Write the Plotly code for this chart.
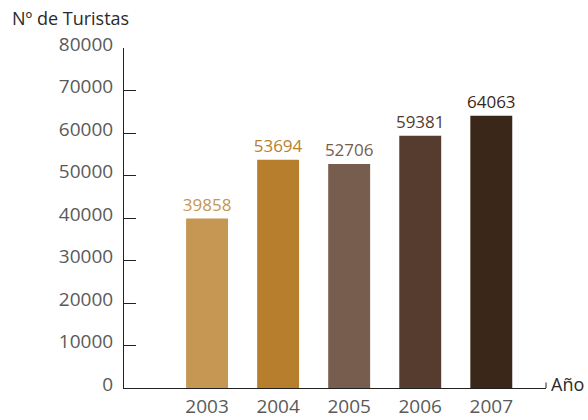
import plotly.graph_objects as go

years = ["2003", "2004", "2005", "2006", "2007"]
turistas = [39858, 53694, 52706, 59381, 64063]
colors = ["#C69653", "#B77F2D", "#765D4D", "#553C2E", "#3B261A"]
y_ticks = [0, 10000, 20000, 30000, 40000, 50000, 60000, 70000, 80000]

xs = list(range(len(years)))

fig = go.Figure()
fig.add_trace(go.Bar(
    x=xs, y=turistas, width=0.59,
    marker=dict(color=colors, line=dict(width=0)),
    text=[str(v) for v in turistas], textposition="outside",
    constraintext="none",
    textfont=dict(family="Open Sans", size=17, color=colors),
    cliponaxis=False, hoverinfo="skip",
))

fig.update_layout(
    width=588, height=420,
    margin=dict(l=124, r=42, t=48, b=32, autoexpand=False),
    paper_bgcolor="white", plot_bgcolor="white",
    showlegend=False,
    font=dict(family="Open Sans", color="#5a5a5a"),
    xaxis=dict(
        range=[-1.169, 4.77], tickmode="array", tickvals=xs, ticktext=years,
        showgrid=False, zeroline=False, showline=True, linecolor="#222222", linewidth=1,
        ticks="", tickfont=dict(size=19, color="#5a5a5a"), fixedrange=True,
        automargin=False, ticklabelstandoff=1,
    ),
    yaxis=dict(
        range=[0, 80000], tickmode="array", tickvals=y_ticks,
        ticktext=[str(v) for v in y_ticks],
        showgrid=False, zeroline=False, showline=True, linecolor="#222222", linewidth=1,
        ticks="inside", ticklen=12, tickcolor="#222222", tickwidth=1,
        tickfont=dict(size=19, color="#5a5a5a"), ticklabelstandoff=6, ticklabelshift=-4,
        automargin=False, fixedrange=True,
    ),
    annotations=[
        dict(text="Nº de Turistas", xref="paper", yref="paper", x=-124/422, y=1 + 30/340,
             xanchor="left", yanchor="middle", showarrow=False,
             xshift=10, font=dict(family="Open Sans", size=18, color="#2a2a2a")),
        dict(text="Año", xref="paper", yref="paper", x=1, y=0,
             xanchor="left", yanchor="middle", showarrow=False, xshift=3, yshift=4,
             font=dict(family="Open Sans", size=18, color="#2a2a2a")),
    ],
    shapes=[
        dict(type="line", xref="x domain", yref="y", x0=1, x1=1, y0=0, y1=1300,
             line=dict(color="#222222", width=1)),
    ],
)

fig.write_html("out.html", config={"displayModeBar": False},
               post_script="document.body.style.margin='0';document.body.style.overflow='hidden';")
